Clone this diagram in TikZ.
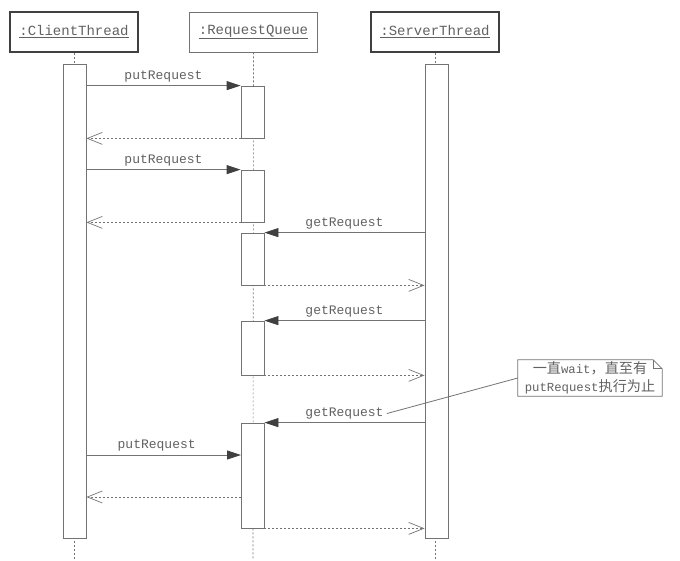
\documentclass[tikz,border=0pt]{standalone}
\usepackage{fontspec}
\setmonofont{Liberation Mono}
\newfontfamily\cjk[Scale=1.15]{Noto Sans CJK SC}
\usetikzlibrary{arrows.meta}
\definecolor{linegray}{gray}{0.45}
\definecolor{textgray}{gray}{0.38}

\begin{document}
\begin{tikzpicture}[x=1pt, y=-1pt,
  font=\ttfamily\fontsize{13}{15}\selectfont,
  obj/.style={draw=linegray, line width=0.8pt, minimum width=128pt, minimum height=40pt,
              text=textgray, font=\ttfamily\fontsize{14}{16}\selectfont},
  act/.style={draw=linegray, line width=0.8pt, fill=white, minimum width=23pt, inner sep=0pt},
  life/.style={draw=linegray, line width=0.6pt, dash pattern=on 2pt off 2pt},
  call/.style={-{Triangle[length=14pt,width=9pt,color=black!75]}, draw=linegray, line width=0.8pt},
  reply/.style={-{Straight Barb[length=15pt,width=12pt]}, draw=linegray, line width=0.7pt,
                dash pattern=on 2pt off 2pt},
  lbl/.style={above, text=textgray, inner sep=3pt},
]
\useasboundingbox (0,0) rectangle (680,560);

% objects
\node[obj, line width=1.5pt, draw=black!75] (client) at (74,32)  {\underline{:ClientThread}};
\node[obj]                                  (queue)  at (253.5,32) {\underline{:RequestQueue}};
\node[obj, line width=1.5pt, draw=black!75] (server) at (435,32) {\underline{:ServerThread}};

% lifelines
\coordinate (cend) at (74,560);
\coordinate (qend) at (253,560);
\coordinate (send) at (435,560);
\draw[life] (client) -- (cend);
\draw[life] (queue) -- (qend);
\draw[life] (server) -- (send);

% activations
\node[act, minimum height=474pt] (ca) at (74.5,301) {};
\node[act, minimum height=474pt] (sa) at (436.5,301) {};
\node[act, minimum height=52pt]  (q1) at (252.5,112) {};
\node[act, minimum height=52pt]  (q2) at (252.5,196) {};
\node[act, minimum height=52pt]  (q3) at (252.5,259) {};
\node[act, minimum height=54pt]  (q4) at (252.5,348) {};
\node[act, minimum height=105pt] (q5) at (252.5,475.5) {};

% messages
\draw[call]  (ca.east |- q1.north) -- node[lbl]{putRequest} (q1.north west);
\draw[reply] (q1.south west) -- (ca.east |- q1.south);
\draw[call]  (ca.east |- q2.north) -- node[lbl]{putRequest} (q2.north west);
\draw[reply] (q2.south west) -- (ca.east |- q2.south);

\draw[call]  (sa.west |- q3.north) -- node[lbl]{getRequest} (q3.north east);
\draw[reply] (q3.south east) -- (sa.west |- q3.south);
\draw[call]  (sa.west |- q4.north) -- node[lbl]{getRequest} (q4.north east);
\draw[reply] (q4.south east) -- (sa.west |- q4.south);
\draw[call]  (sa.west |- q5.north) -- node[lbl] (wait) {getRequest} (q5.north east);

\coordinate (put3) at (241,455);
\coordinate (ret3) at (241,497);
\draw[call]  (ca.east |- put3) -- node[lbl, xshift=-7pt]{putRequest} (put3);
\draw[reply] (ret3) -- (ca.east |- ret3);
\draw[reply] (q5.south east) -- (sa.west |- q5.south);

% note
\node[text=textgray, align=center, minimum width=144pt, minimum height=36pt, inner sep=0pt,
      font=\ttfamily\fontsize{12.3}{18}\selectfont] (note) at (590,378)
  {{\cjk 一直}wait{\cjk ，直至有}\\putRequest{\cjk 执行为止}};
\draw[linegray, line width=0.8pt] (note.north west) -- ([xshift=-9pt]note.north east)
  -- ([yshift=-9pt]note.north east) -- (note.south east) -- (note.south west) -- cycle;
\draw[linegray, line width=0.8pt] ([xshift=-9pt]note.north east)
  -- ([xshift=-9pt,yshift=-9pt]note.north east) -- ([yshift=-9pt]note.north east);
\draw[linegray, line width=0.8pt] (wait.east) -- (note.west);
\end{tikzpicture}
\end{document}
